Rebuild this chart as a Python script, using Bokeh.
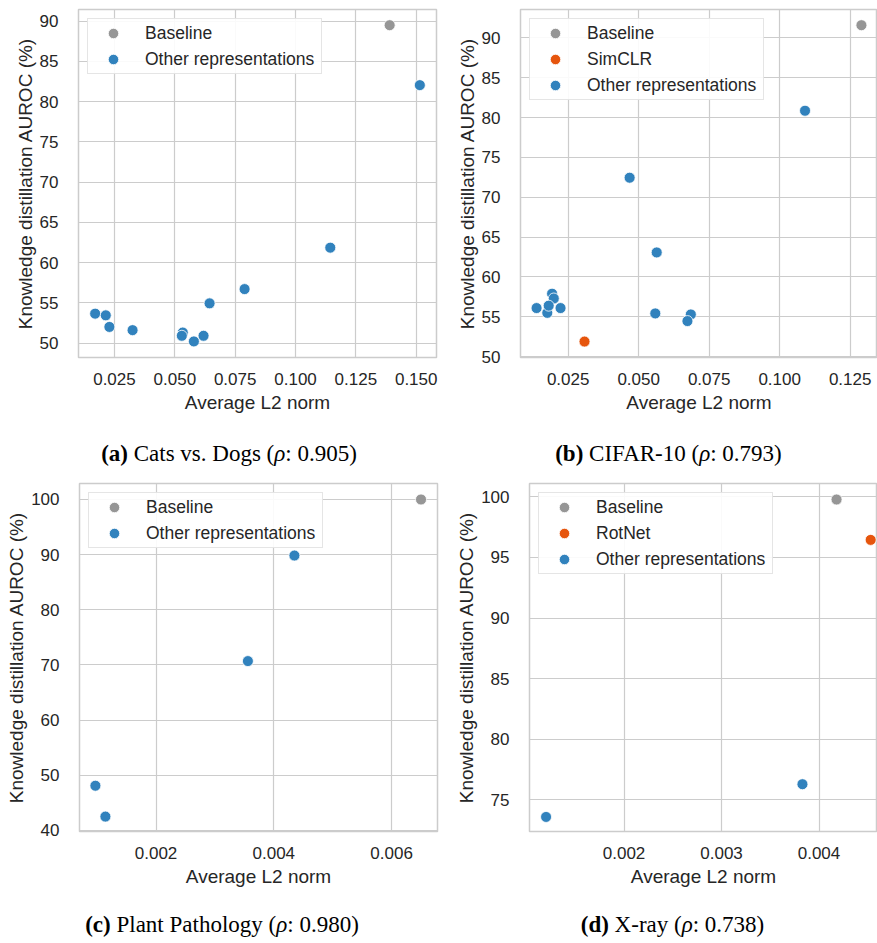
from bokeh.plotting import figure
from bokeh.models import Range1d, FixedTicker, NumeralTickFormatter, Legend, LegendItem, Div
from bokeh.layouts import column, row
from bokeh.embed import file_html
from bokeh.resources import INLINE

# ---- data -------------------------------------------------------------
# (a) Cats vs. Dogs
a_base_x = [0.139]
a_base_y = [89.5]
a_other_x = [0.1515, 0.1144, 0.0789, 0.0644, 0.0170, 0.0214, 0.0229, 0.0325,
             0.0533, 0.0529, 0.0579, 0.0619]
a_other_y = [82.05, 61.85, 56.7, 54.93, 53.65, 53.44, 52.0, 51.6,
             51.3, 50.9, 50.2, 50.9]

# (b) CIFAR-10
b_base_x = [0.129]
b_base_y = [91.58]
b_simclr_x = [0.0308]
b_simclr_y = [51.9]
b_other_x = [0.109, 0.0468, 0.0564, 0.0559, 0.0685, 0.0673,
             0.0138, 0.0176, 0.0193, 0.0199, 0.0181, 0.0223]
b_other_y = [80.85, 72.45, 63.08, 55.43, 55.3, 54.47,
             56.1, 55.5, 57.9, 57.3, 56.4, 56.1]

# (c) Plant Pathology
c_base_x = [0.0065]
c_base_y = [100.0]
c_other_x = [0.00435, 0.00356, 0.00097, 0.00114]
c_other_y = [89.84, 70.7, 48.1, 42.5]

# (d) X-ray
d_base_x = [0.00418]
d_base_y = [99.78]
d_rotnet_x = [0.00453]
d_rotnet_y = [96.45]
d_other_x = [0.00383, 0.00120]
d_other_y = [76.3, 73.6]

a_xticks = [0.025, 0.050, 0.075, 0.100, 0.125, 0.150]
a_yticks = [50, 55, 60, 65, 70, 75, 80, 85, 90]
b_xticks = [0.025, 0.050, 0.075, 0.100, 0.125]
b_yticks = [50, 55, 60, 65, 70, 75, 80, 85, 90]
c_xticks = [0.002, 0.004, 0.006]
c_yticks = [40, 50, 60, 70, 80, 90, 100]
d_xticks = [0.002, 0.003, 0.004]
d_yticks = [75, 80, 85, 90, 95, 100]

captions = [
    ("(a)", "Cats vs. Dogs", "0.905"),
    ("(b)", "CIFAR-10", "0.793"),
    ("(c)", "Plant Pathology", "0.980"),
    ("(d)", "X-ray", "0.738"),
]

# ---- style ------------------------------------------------------------
BLUE = "#3182bd"
ORANGE = "#e6550d"
GRAY = "#969696"
INK = "#262626"
RULE = "#cccccc"
SANS = "Liberation Sans"
XLABEL = "Average L2 norm"
YLABEL = "Knowledge distillation AUROC (%)"


def panel(width, height, borders, xr, yr, xticks, yticks, series):
    left, right, top, bottom = borders
    p = figure(width=width, height=height, output_backend="svg",
               toolbar_location=None,
               x_range=Range1d(*xr), y_range=Range1d(*yr),
               min_border_left=left, min_border_right=right,
               min_border_top=top, min_border_bottom=bottom)
    p.background_fill_color = "white"
    p.border_fill_color = "white"
    p.outline_line_color = RULE
    p.outline_line_width = 1.5

    p.xaxis.ticker = FixedTicker(ticks=xticks)
    p.yaxis.ticker = FixedTicker(ticks=yticks)
    p.xaxis.formatter = NumeralTickFormatter(format="0.000")
    p.yaxis.formatter = NumeralTickFormatter(format="0")
    p.xaxis.axis_label = XLABEL
    p.yaxis.axis_label = YLABEL
    for ax in (p.xaxis[0], p.yaxis[0]):
        ax.axis_line_color = None
        ax.major_tick_line_color = None
        ax.minor_tick_line_color = None
        ax.major_label_text_font = SANS
        ax.major_label_text_font_size = "17px"
        ax.major_label_text_color = INK
        ax.axis_label_text_font = SANS
        ax.axis_label_text_font_size = "19px"
        ax.axis_label_text_font_style = "normal"
        ax.axis_label_text_color = INK
    p.xaxis.major_label_standoff = 9
    p.xaxis.axis_label_standoff = 4
    p.yaxis.major_label_standoff = 14
    p.yaxis.axis_label_standoff = 1

    p.grid.grid_line_color = RULE
    p.grid.grid_line_width = 1.2

    items = []
    # draw the bulk first, the highlighted representations on top
    for label, xs, ys, color in reversed(series):
        r = p.scatter(xs, ys, size=11, fill_color=color, line_color="white",
                      line_width=0.8)
        items.insert(0, LegendItem(label=label, renderers=[r]))

    legend = Legend(items=items, location="top_left", margin=9, padding=1,
                    spacing=0, glyph_width=48, glyph_height=26,
                    label_height=26, label_width=175, label_standoff=8,
                    label_text_font=SANS, label_text_font_size="17.5px",
                    label_text_color=INK,
                    border_line_color=RULE, border_line_width=1,
                    background_fill_color="white", background_fill_alpha=0.9)
    p.add_layout(legend)
    return p


pa = panel(440, 430, (78, 4, 9, 73), (0.0101, 0.1584), (48.2, 91.45),
           a_xticks, a_yticks,
           [("Baseline", a_base_x, a_base_y, GRAY),
            ("Other representations", a_other_x, a_other_y, BLUE)])
pb = panel(437, 430, (80, 0, 9, 73), (0.0081, 0.1347), (49.9, 93.55),
           b_xticks, b_yticks,
           [("Baseline", b_base_x, b_base_y, GRAY),
            ("SimCLR", b_simclr_x, b_simclr_y, ORANGE),
            ("Other representations", b_other_x, b_other_y, BLUE)])
pc = panel(440, 430, (79, 3, 13, 69), (0.0007, 0.00678), (39.8, 102.9),
           c_xticks, c_yticks,
           [("Baseline", c_base_x, c_base_y, GRAY),
            ("Other representations", c_other_x, c_other_y, BLUE)])
pd = panel(437, 430, (89, 0, 13, 69), (0.00103, 0.0046), (72.4, 101.1),
           d_xticks, d_yticks,
           [("Baseline", d_base_x, d_base_y, GRAY),
            ("RotNet", d_rotnet_x, d_rotnet_y, ORANGE),
            ("Other representations", d_other_x, d_other_y, BLUE)])


def caption(entry, width, height, pad_top, shift):
    tag, name, rho = entry
    html = (
        f'<div style="width:{width}px;height:{height}px;box-sizing:border-box;'
        f'padding-top:{pad_top}px;padding-left:{max(shift, 0) * 2}px;'
        f'padding-right:{max(-shift, 0) * 2}px;text-align:center;'
        f"font-family:'Liberation Serif',serif;font-size:23px;line-height:23px;"
        f'color:#000;white-space:nowrap;">'
        f'<b>{tag}</b> {name} (<i>&rho;</i>: {rho})</div>'
    )
    return Div(text=html, width=width, height=height, margin=0)


cap_a = caption(captions[0], 440, 40, 12, 9)
cap_b = caption(captions[1], 437, 40, 12, 10)
cap_c = caption(captions[2], 440, 43, 13, 2)
cap_d = caption(captions[3], 437, 43, 13, 14)

page = column(row(pa, pb), row(cap_a, cap_b), row(pc, pd), row(cap_c, cap_d))

open("out.html", "w").write(file_html(page, INLINE))
